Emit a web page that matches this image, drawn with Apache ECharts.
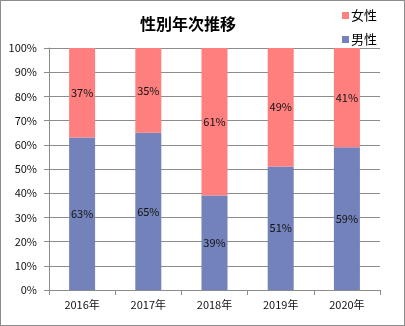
<!DOCTYPE html>
<html>
<head>
<meta charset="utf-8">
<script src="https://cdn.jsdelivr.net/npm/echarts@6/dist/echarts.min.js"></script>
<style>
  html, body { margin: 0; padding: 0; background: #fff; }
  #chart { width: 405px; height: 326px; box-sizing: border-box; border: 1px solid #8c8c8c; }
</style>
</head>
<body>
<div id="chart"></div>
<script>
// Share of men and women per year (percent)
const years = ['2016年', '2017年', '2018年', '2019年', '2020年'];
const male = [63, 65, 39, 51, 59];
const female = [37, 35, 61, 49, 41];
const yTicks = [0, 10, 20, 30, 40, 50, 60, 70, 80, 90, 100];

const FONT = '"Noto Sans CJK JP", "DejaVu Sans", sans-serif';
const chart = echarts.init(document.getElementById('chart'));

const labelStyle = {
  show: true,
  position: 'inside',
  formatter: p => p.value + '%',
  color: '#111',
  fontSize: 11,
  fontFamily: FONT
};

chart.setOption({
  animation: false,
  title: {
    text: '性別年次推移',
    left: 182,
    textAlign: 'center',
    top: 10,
    textStyle: { fontSize: 16, fontWeight: 'bold', color: '#000', fontFamily: FONT }
  },
  legend: {
    orient: 'vertical',
    right: 22,
    top: 3,
    itemWidth: 7,
    itemHeight: 7,
    itemGap: 11,
    icon: 'rect',
    data: ['女性', '男性'],
    textStyle: { fontSize: 13, color: '#000', fontFamily: FONT, padding: [0, 0, 0, -3] }
  },
  grid: { left: 48, right: 24, top: 47, bottom: 35 },
  xAxis: {
    type: 'category',
    data: years,
    axisLine: { lineStyle: { color: '#8c8c8c' } },
    axisTick: { show: true, length: 5, lineStyle: { color: '#8c8c8c' } },
    axisLabel: { color: '#111', fontSize: 11, fontFamily: FONT, margin: 9 }
  },
  yAxis: {
    type: 'value',
    min: yTicks[0],
    max: yTicks[yTicks.length - 1],
    interval: 10,
    axisLine: { show: true, lineStyle: { color: '#8c8c8c' } },
    axisTick: { show: true, length: 5, lineStyle: { color: '#8c8c8c' } },
    splitLine: { lineStyle: { color: '#8c8c8c' } },
    axisLabel: { formatter: '{value}%', color: '#111', fontSize: 11, fontFamily: FONT, margin: 12 }
  },
  series: [
    {
      name: '男性',
      type: 'bar',
      stack: 'total',
      data: male,
      barWidth: 26,
      itemStyle: { color: '#7382BA' },
      label: labelStyle
    },
    {
      name: '女性',
      type: 'bar',
      stack: 'total',
      data: female,
      barWidth: 26,
      itemStyle: { color: '#FF7F7F' },
      label: labelStyle
    }
  ]
});
</script>
</body>
</html>
